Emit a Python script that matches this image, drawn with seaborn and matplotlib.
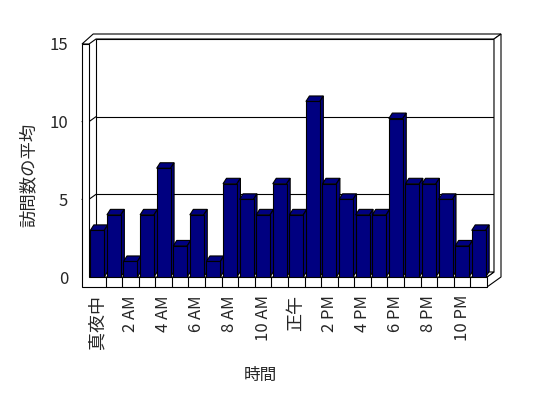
import numpy as np
import pandas as pd
import matplotlib
matplotlib.use('Agg')
import matplotlib.pyplot as plt
import seaborn as sns
from matplotlib.patches import Polygon

# data
hours = [str(h) for h in range(24)]
visits = [3, 4, 1, 4, 7, 2, 4, 1, 6, 5, 4, 6, 4, 11.3, 6, 5, 4, 4, 10.2, 6, 6, 5, 2, 3]
tick_labels = ['真夜中', '2 AM', '4 AM', '6 AM', '8 AM', '10 AM',
               '正午', '2 PM', '4 PM', '6 PM', '8 PM', '10 PM']
y_ticks = [0, 5, 10, 15]

sns.set_style('white')
plt.rcParams['font.family'] = ['Noto Sans CJK JP', 'DejaVu Sans']

W, H = 548, 398
fig = plt.figure(figsize=(W / 100, H / 100), dpi=100)
# front plane of the plot box (pixels)
x0, x1, ytop, ybot = 89, 487, 44, 277
ax = fig.add_axes([x0 / W, 1 - ybot / H, (x1 - x0) / W, (ybot - ytop) / H])

df = pd.DataFrame({'hour': hours, 'visits': visits})
sns.barplot(data=df, x='hour', y='visits', color='#000080', saturation=1,
            width=0.84, edgecolor='black', linewidth=0.8, ax=ax, zorder=3)
bars = list(ax.patches)

n = len(hours)
ax.set_xlim(-0.5, n - 0.5)
ax.set_ylim(0, 15)

ux = n / (x1 - x0)        # data units per pixel
uy = 15 / (ybot - ytop)
DX, DY = 7 * ux, 5 * uy   # wall depth
WL = 7 * ux               # left wall thickness
F = 10 * uy               # floor thickness
L, R, T = -0.5, n - 0.5, 15


def face(pts, z=1, fc='white'):
    ax.add_patch(Polygon(pts, closed=True, fc=fc, ec='black', lw=0.8,
                         zorder=z, clip_on=False))


# back wall + gridlines
face([(L + DX, DY), (R + DX, DY), (R + DX, T + DY), (L + DX, T + DY)], z=0.5)
for v in y_ticks[1:-1]:
    ax.plot([L + DX, R + DX], [v + DY, v + DY], color='black', lw=0.8,
            zorder=0.6, clip_on=False)
    ax.plot([L - WL, L, L + DX], [v, v, v + DY], color='black', lw=0.8,
            zorder=0.6, clip_on=False)
# top of walls
face([(L - WL, T), (L, T), (L + DX, T + DY), (R + DX, T + DY),
      (R + 2 * DX, T + 2 * DY), (L - WL + 1.6 * DX, T + 2 * DY)], z=0.7)
# right side
face([(R, -F), (R, 0), (R + DX, DY), (R + DX, T + DY),
      (R + 2 * DX, T + 2 * DY), (R + 2 * DX, -F + 2 * DY)], z=0.7)
# floor top
face([(L, 0), (R, 0), (R + DX, DY), (L + DX, DY)], z=0.8)
# left wall front + floor front
face([(L - WL, -F), (R, -F), (R, 0), (L, 0), (L, T), (L - WL, T)], z=0.9)
for k in range(1, n):
    ax.plot([k - 0.5, k - 0.5], [-F, 0], color='black', lw=0.8,
            zorder=1, clip_on=False)

# 3d faces of the columns
bdx, bdy = 3.5 * ux, 5.5 * uy
for p in bars:
    x, w, h = p.get_x(), p.get_width(), p.get_height()
    face([(x, h), (x + w, h), (x + w + bdx, h + bdy), (x + bdx, h + bdy)],
         z=2.5, fc='#000080')
    face([(x + w, 0), (x + w, h), (x + w + bdx, h + bdy), (x + w + bdx, bdy)],
         z=2.5, fc='#000080')

for s in ax.spines.values():
    s.set_visible(False)
ax.set_xticks(range(0, n, 2), tick_labels, rotation=90)
ax.set_yticks(y_ticks, [str(v) for v in y_ticks], fontsize=12)
for t in ax.get_xticklabels():
    t.set_fontsize(12 if t.get_text().isascii() else 13)
ax.tick_params(axis='x', length=0, pad=13)
ax.tick_params(axis='y', length=0, pad=15)
ax.set_xlabel('時間', fontsize=12)
ax.set_ylabel('訪問数の平均', fontsize=12.5)
ax.xaxis.set_label_coords(0.43, -0.386)
ax.yaxis.set_label_coords(-0.128, 0.438)
ax.patch.set_alpha(0)

fig.savefig('out.png', dpi=100, facecolor='white')
